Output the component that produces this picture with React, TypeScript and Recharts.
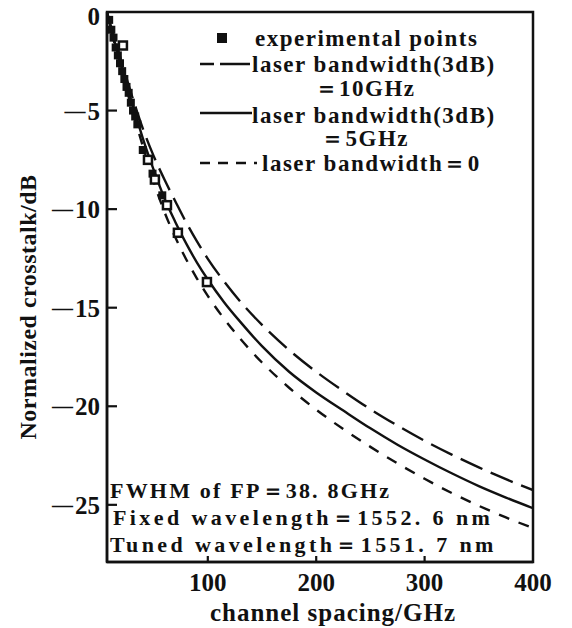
import React from 'react';
import { ComposedChart, Line, Scatter, XAxis, YAxis, ReferenceArea, Label } from 'recharts';

// channel spacing (GHz)
const xGrid = [7, 10, 15, 20, 25, 30, 35, 40, 50, 60, 70, 80, 90, 100, 115, 130, 150, 175, 200, 225, 250, 275, 300, 325, 350, 375, 400];
// normalized crosstalk (dB), laser bandwidth (3dB) = 10 GHz
const bw10 = [0, -0.6, -1.5, -2.45, -3.35, -4.25, -5.1, -5.9, -7.3, -8.5, -9.6, -10.67, -11.64, -12.52, -13.67, -14.69, -15.87, -17.15, -18.25, -19.23, -20.15, -20.98, -21.75, -22.45, -23.1, -23.7, -24.25];
// laser bandwidth (3dB) = 5 GHz
const bw5 = [0, -0.7, -1.7, -2.7, -3.7, -4.6, -5.5, -6.4, -8.0, -9.45, -10.65, -11.74, -12.71, -13.57, -14.72, -15.72, -16.95, -18.25, -19.3, -20.22, -21.12, -21.95, -22.7, -23.4, -24.05, -24.63, -25.17];
// laser bandwidth = 0
const bw0 = [0, -0.8, -1.8, -2.85, -3.9, -4.9, -5.85, -6.8, -8.6, -10.14, -11.43, -12.54, -13.52, -14.4, -15.56, -16.58, -17.78, -19.06, -20.17, -21.16, -22.06, -22.9, -23.68, -24.4, -25.05, -25.64, -26.18];

// experimental points
const expFilledX = [9, 11, 13, 15, 17, 19, 21, 23, 25, 27, 29, 31, 33, 35, 40, 49, 58];
const expFilledY = [-0.4, -0.9, -1.3, -1.8, -2.2, -2.6, -3.0, -3.4, -3.8, -4.1, -4.6, -5.0, -5.3, -5.7, -7.0, -8.2, -9.3];
const expOpenX = [21.7, 44.8, 51.2, 62.3, 72.4, 99.2];
const expOpenY = [-1.7, -7.5, -8.5, -9.8, -11.2, -13.7];

const xTicks = [100, 200, 300, 400];
const yTicks = [0, -5, -10, -15, -20, -25];

const curveRows = xGrid.map((x, i) => ({ x, bw10: bw10[i], bw5: bw5[i], bw0: bw0[i] }));
const filledRows = expFilledX.map((x, i) => ({ x, y: expFilledY[i] }));
const openRows = expOpenX.map((x, i) => ({ x, y: expOpenY[i] }));

const FONT = '"Liberation Serif", "DejaVu Serif", serif';
const INK = '#111';
const Y_MARGIN = 7;
const X_MARGIN = 11;

const YTick = (p: any) => {
  const v = p.payload.value;
  const axisX = p.x + Y_MARGIN;
  return (
    <g>
      {v !== 0 && <line x1={axisX} x2={axisX + 10} y1={p.y} y2={p.y} stroke={INK} strokeWidth={2.2} />}
      <text x={p.x} y={p.y} dy={v === 0 ? 4 : 0} textAnchor="end" dominantBaseline="central" fontFamily={FONT} fontWeight="bold" fontSize={25} fill={INK}>
        {v === 0 ? '0' : (
          <>
            <tspan fontSize={21}>—</tspan>
            <tspan dx={2}>{Math.abs(v)}</tspan>
          </>
        )}
      </text>
    </g>
  );
};

const XTick = (p: any) => {
  const axisY = p.y - X_MARGIN;
  return (
    <g>
      {p.payload.value !== 400 && <line x1={p.x} x2={p.x} y1={axisY} y2={axisY - 6} stroke={INK} strokeWidth={2.2} />}
      <text x={p.x} y={p.y} textAnchor="middle" dominantBaseline="hanging" fontFamily={FONT} fontWeight="bold" fontSize={25} fill={INK}>
        {p.payload.value}
      </text>
    </g>
  );
};

const FilledSquare = (p: any) => <rect x={p.cx - 4} y={p.cy - 4} width={8} height={8} fill={INK} />;
const OpenSquare = (p: any) => (
  <rect x={p.cx - 4} y={p.cy - 4} width={8} height={8} fill="#fff" stroke={INK} strokeWidth={2.5} />
);

export default function App() {
  return (
    <div style={{ position: 'relative', width: 564, height: 628, marginTop: -8 }}>
      <ComposedChart width={564} height={628} margin={{ top: 12, right: 39, bottom: 0, left: 0 }}>
        <XAxis
          type="number"
          dataKey="x"
          domain={[7, 400]}
          ticks={xTicks}
          interval={0}
          allowDataOverflow
          height={66}
          axisLine={{ stroke: INK, strokeWidth: 2.5 }}
          tickLine={false}
          tickSize={0}
          tickMargin={X_MARGIN}
          tick={<XTick />}
        >
          <Label
            content={(props: any) => {
              const vb = props.viewBox;
              return (
                <text x={vb.x + vb.width / 2 + 13} y={vb.y + 50} textAnchor="middle" dominantBaseline="central" fontFamily={FONT} fontWeight="bold" fontSize={25} letterSpacing={1} fill={INK}>
                  channel spacing/GHz
                </text>
              );
            }}
          />
        </XAxis>
        <YAxis
          type="number"
          domain={[-27.9, 0]}
          ticks={yTicks}
          interval={0}
          allowDataOverflow
          width={99}
          axisLine={{ stroke: INK, strokeWidth: 2.5 }}
          tickLine={false}
          tickSize={0}
          tickMargin={Y_MARGIN}
          tick={<YTick />}
        >
          <Label
            content={(props: any) => {
              const vb = props.viewBox;
              const cx = vb.x + 20;
              const cy = vb.y + vb.height / 2 + 20;
              return (
                <text x={cx} y={cy} transform={`rotate(-90, ${cx}, ${cy})`} textAnchor="middle" dominantBaseline="central" fontFamily={FONT} fontWeight="bold" fontSize={24} letterSpacing={0.5} fill={INK}>
                  Normalized crosstalk/dB
                </text>
              );
            }}
          />
        </YAxis>
        <ReferenceArea x1={7} x2={400} y1={-27.9} y2={0} fill="none" stroke={INK} strokeWidth={2.5} />
        <Line data={curveRows} dataKey="bw10" type="monotone" stroke={INK} strokeWidth={2.4} strokeDasharray="24 9" dot={false} isAnimationActive={false} />
        <Line data={curveRows} dataKey="bw5" type="monotone" stroke={INK} strokeWidth={2.4} dot={false} isAnimationActive={false} />
        <Line data={curveRows} dataKey="bw0" type="monotone" stroke={INK} strokeWidth={2.4} strokeDasharray="11 10" dot={false} isAnimationActive={false} />
        <Scatter data={filledRows} dataKey="y" shape={FilledSquare} isAnimationActive={false} />
        <Scatter data={openRows} dataKey="y" shape={OpenSquare} isAnimationActive={false} />
      </ComposedChart>
      <svg width={564} height={620} style={{ position: 'absolute', left: 0, top: 8, pointerEvents: 'none' }}>
        <g fontFamily={FONT} fontWeight="bold" fill={INK} fontSize={23} letterSpacing={1.5}>
          <rect x={209} y={25} width={10} height={10} fill={INK} />
          <text x={247} y={30} dominantBaseline="central">experimental points</text>
          <line x1={192} x2={244} y1={56} y2={56} stroke={INK} strokeWidth={2.4} strokeDasharray="14 6 30" />
          <text x={244} y={56} dominantBaseline="central">laser bandwidth(3dB)</text>
          <text x={357} y={80} textAnchor="middle" dominantBaseline="central">＝10GHz</text>
          <line x1={192} x2={244} y1={105} y2={105} stroke={INK} strokeWidth={2.4} />
          <text x={244} y={107} dominantBaseline="central">laser bandwidth(3dB)</text>
          <text x={357} y={130} textAnchor="middle" dominantBaseline="central">＝5GHz</text>
          <line x1={192} x2={249} y1={155} y2={155} stroke={INK} strokeWidth={2.4} strokeDasharray="10 8" />
          <text x={254} y={155} dominantBaseline="central">laser bandwidth＝0</text>
        </g>
        <g fontFamily={FONT} fontWeight="bold" fill={INK} fontSize={22}>
          <text x={102} y={482} dominantBaseline="central" letterSpacing={2.2}>FWHM of FP＝38. 8GHz</text>
          <text x={105} y={509} dominantBaseline="central" letterSpacing={3.4}>Fixed wavelength＝1552. 6 nm</text>
          <text x={102} y={536} dominantBaseline="central" letterSpacing={3.4}>Tuned wavelength＝1551. 7 nm</text>
        </g>
      </svg>
    </div>
  );
}
